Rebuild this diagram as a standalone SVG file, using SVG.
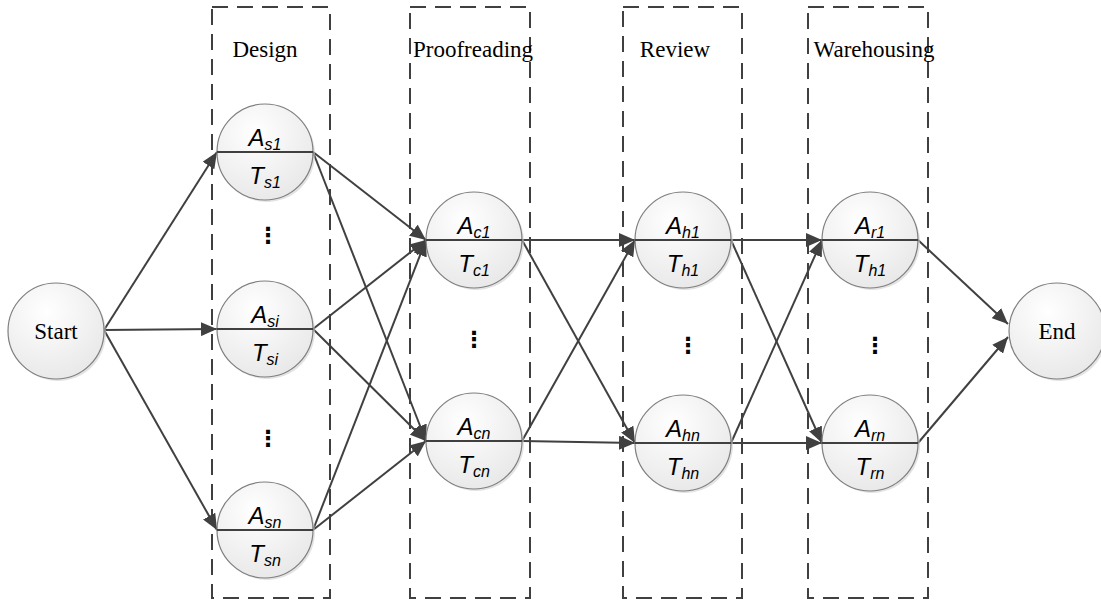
<svg xmlns="http://www.w3.org/2000/svg" width="1101" height="604" viewBox="0 0 1101 604">
<style>
.stage{fill:none;stroke:#404040;stroke-width:2;stroke-dasharray:16,9}
.lbl{font-family:"Liberation Serif","Times New Roman",serif;font-size:23px;fill:#000}
.nd{fill:url(#g);stroke:#7f7f7f;stroke-width:1.2}
.sh{fill:#d0d0d0;opacity:0.6}
.div{stroke:#404040;stroke-width:2}
.v{font-family:"Liberation Sans",Arial,sans-serif;font-style:italic;font-size:24px;fill:#000;text-anchor:middle}
.sub{font-size:16px}
.dots{font-family:"DejaVu Sans",sans-serif;font-size:22px;font-weight:bold;fill:#000;text-anchor:middle}
.e{stroke:#404040;stroke-width:2;fill:none;marker-end:url(#ah)}
</style>
<defs>
<radialGradient id="g" cx="0.4" cy="0.3" r="0.8">
<stop offset="0" stop-color="#ffffff"/>
<stop offset="1" stop-color="#e6e6e6"/>
</radialGradient>
<marker id="ah" markerUnits="userSpaceOnUse" markerWidth="17" markerHeight="14" refX="16" refY="7" orient="auto">
<path d="M0,0 L16,7 L0,14 Z" fill="#404040"/>
</marker>
</defs>
<rect width="1101" height="604" fill="#fff"/>
<g id="stages">
<rect class="stage" x="212" y="7" width="118" height="591"/>
<rect class="stage" x="410" y="7" width="120" height="591"/>
<rect class="stage" x="623" y="7" width="119" height="591"/>
<rect class="stage" x="808" y="7" width="120" height="591"/>
<text class="lbl" x="265" y="57" text-anchor="middle">Design</text>
<text class="lbl" x="473" y="57" text-anchor="middle">Proofreading</text>
<text class="lbl" x="675" y="57" text-anchor="middle">Review</text>
<text class="lbl" x="874" y="57" text-anchor="middle">Warehousing</text>
</g>
<g id="connectors">
<line class="e" x1="104" y1="330" x2="217" y2="152"/>
<line class="e" x1="104" y1="330" x2="217" y2="329"/>
<line class="e" x1="104" y1="330" x2="217" y2="530"/>
<line class="e" x1="313" y1="152" x2="426" y2="240"/>
<line class="e" x1="313" y1="152" x2="426" y2="441"/>
<line class="e" x1="313" y1="329" x2="426" y2="240"/>
<line class="e" x1="313" y1="329" x2="426" y2="441"/>
<line class="e" x1="313" y1="530" x2="426" y2="240"/>
<line class="e" x1="313" y1="530" x2="426" y2="441"/>
<line class="e" x1="522" y1="240" x2="635" y2="240"/>
<line class="e" x1="522" y1="240" x2="635" y2="443"/>
<line class="e" x1="522" y1="441" x2="635" y2="240"/>
<line class="e" x1="522" y1="441" x2="635" y2="443"/>
<line class="e" x1="731" y1="240" x2="822" y2="240"/>
<line class="e" x1="731" y1="240" x2="822" y2="443"/>
<line class="e" x1="731" y1="443" x2="822" y2="240"/>
<line class="e" x1="731" y1="443" x2="822" y2="443"/>
<line class="e" x1="918" y1="240" x2="1008" y2="324"/>
<line class="e" x1="918" y1="443" x2="1008" y2="337"/>
</g>
<g id="start">
<circle class="sh" cx="58" cy="333" r="48"/>
<circle class="nd" cx="56" cy="331" r="48"/>
<text class="lbl" x="56" y="339" text-anchor="middle">Start</text>
</g>
<g id="end">
<circle class="sh" cx="1059" cy="333" r="48"/>
<circle class="nd" cx="1057" cy="331" r="48"/>
<text class="lbl" x="1057" y="339" text-anchor="middle">End</text>
</g>
<g id="As1">
<circle class="sh" cx="267" cy="154" r="48"/>
<circle class="nd" cx="265" cy="152" r="48"/>
<line class="div" x1="217" y1="152" x2="313" y2="152"/>
<text class="v" x="265" y="146">A<tspan class="sub" dy="4">s1</tspan></text>
<text class="v" x="265" y="184">T<tspan class="sub" dy="4">s1</tspan></text>
</g>
<g id="Asi">
<circle class="sh" cx="267" cy="331" r="48"/>
<circle class="nd" cx="265" cy="329" r="48"/>
<line class="div" x1="217" y1="329" x2="313" y2="329"/>
<text class="v" x="265" y="323">A<tspan class="sub" dy="4">si</tspan></text>
<text class="v" x="265" y="361">T<tspan class="sub" dy="4">si</tspan></text>
</g>
<g id="Asn">
<circle class="sh" cx="267" cy="532" r="48"/>
<circle class="nd" cx="265" cy="530" r="48"/>
<line class="div" x1="217" y1="530" x2="313" y2="530"/>
<text class="v" x="265" y="524">A<tspan class="sub" dy="4">sn</tspan></text>
<text class="v" x="265" y="562">T<tspan class="sub" dy="4">sn</tspan></text>
</g>
<g id="Ac1">
<circle class="sh" cx="476" cy="242" r="48"/>
<circle class="nd" cx="474" cy="240" r="48"/>
<line class="div" x1="426" y1="240" x2="522" y2="240"/>
<text class="v" x="474" y="234">A<tspan class="sub" dy="4">c1</tspan></text>
<text class="v" x="474" y="272">T<tspan class="sub" dy="4">c1</tspan></text>
</g>
<g id="Acn">
<circle class="sh" cx="476" cy="443" r="48"/>
<circle class="nd" cx="474" cy="441" r="48"/>
<line class="div" x1="426" y1="441" x2="522" y2="441"/>
<text class="v" x="474" y="435">A<tspan class="sub" dy="4">cn</tspan></text>
<text class="v" x="474" y="473">T<tspan class="sub" dy="4">cn</tspan></text>
</g>
<g id="Ah1">
<circle class="sh" cx="685" cy="242" r="48"/>
<circle class="nd" cx="683" cy="240" r="48"/>
<line class="div" x1="635" y1="240" x2="731" y2="240"/>
<text class="v" x="683" y="234">A<tspan class="sub" dy="4">h1</tspan></text>
<text class="v" x="683" y="272">T<tspan class="sub" dy="4">h1</tspan></text>
</g>
<g id="Ahn">
<circle class="sh" cx="685" cy="445" r="48"/>
<circle class="nd" cx="683" cy="443" r="48"/>
<line class="div" x1="635" y1="443" x2="731" y2="443"/>
<text class="v" x="683" y="437">A<tspan class="sub" dy="4">hn</tspan></text>
<text class="v" x="683" y="475">T<tspan class="sub" dy="4">hn</tspan></text>
</g>
<g id="Ar1">
<circle class="sh" cx="872" cy="242" r="48"/>
<circle class="nd" cx="870" cy="240" r="48"/>
<line class="div" x1="822" y1="240" x2="918" y2="240"/>
<text class="v" x="870" y="234">A<tspan class="sub" dy="4">r1</tspan></text>
<text class="v" x="870" y="272">T<tspan class="sub" dy="4">h1</tspan></text>
</g>
<g id="Arn">
<circle class="sh" cx="872" cy="445" r="48"/>
<circle class="nd" cx="870" cy="443" r="48"/>
<line class="div" x1="822" y1="443" x2="918" y2="443"/>
<text class="v" x="870" y="437">A<tspan class="sub" dy="4">rn</tspan></text>
<text class="v" x="870" y="475">T<tspan class="sub" dy="4">rn</tspan></text>
</g>
<g id="ellipses">
<text class="dots" x="268" y="243">⋮</text>
<text class="dots" x="268" y="446">⋮</text>
<text class="dots" x="474" y="347">⋮</text>
<text class="dots" x="688" y="353">⋮</text>
<text class="dots" x="875" y="353">⋮</text>
</g>
</svg>
